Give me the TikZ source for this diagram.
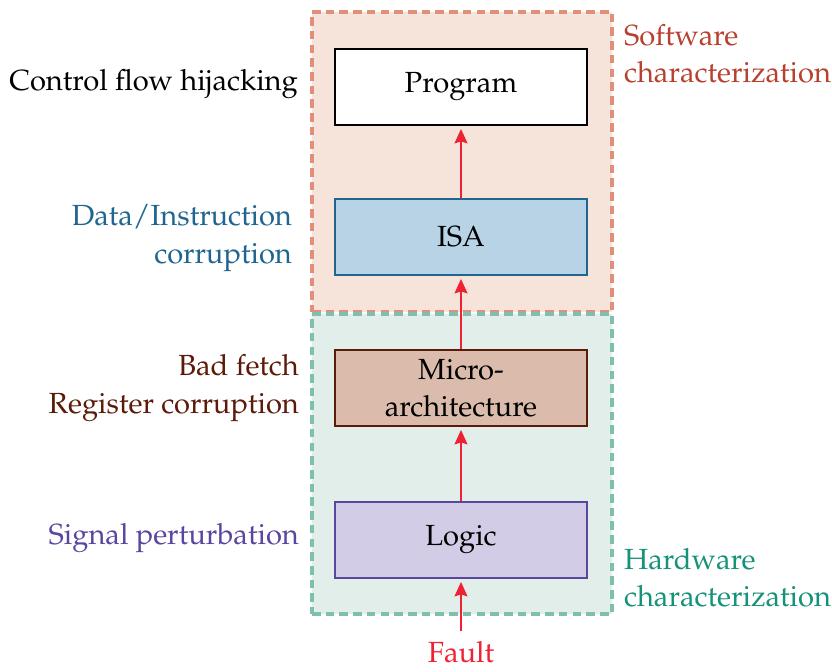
\documentclass[tikz,border=0pt]{standalone}
\usepackage[T1]{fontenc}
\usepackage{mathpazo}
\usepackage{tikz}
\usetikzlibrary{arrows.meta, positioning}

\definecolor{swfill}{HTML}{F6E3DA}
\definecolor{swline}{HTML}{E0907A}
\definecolor{swtext}{HTML}{B8402F}
\definecolor{hwfill}{HTML}{E2EEE9}
\definecolor{hwline}{HTML}{7FBFB0}
\definecolor{hwtext}{HTML}{16917A}
\definecolor{isafill}{HTML}{B8D3E6}
\definecolor{isaline}{HTML}{1F6590}
\definecolor{uarchfill}{HTML}{DBBCAC}
\definecolor{uarchline}{HTML}{5C1A08}
\definecolor{logicfill}{HTML}{D2CCE6}
\definecolor{logicline}{HTML}{5A45A0}
\definecolor{faultred}{HTML}{EE2233}

\begin{document}
\begin{tikzpicture}[
    x=0.35pt, y=-0.35pt,
    every node/.style={font=\fontsize{10.2}{13}\selectfont},
    layer/.style={draw, line width=0.8pt, minimum width=88pt, minimum height=26.5pt, inner sep=2pt, align=center},
    group/.style={dash pattern=on 3pt off 1.8pt, line width=1.2pt, minimum width=105pt, minimum height=105pt},
    arrow/.style={-{Stealth[length=5pt, width=4.4pt, inset=0.6pt]}, line width=1pt, faultred, shorten >=1pt},
    effect/.style={anchor=east, align=right},
    level/.style={anchor=west, align=left}
]
\useasboundingbox (0,0) rectangle (832,671);

% === CHARACTERIZATION GROUPS ===
\node [group, draw=swline, fill=swfill] (software) at (462,162) {};
\node [group, draw=hwline, fill=hwfill] (hardware) at (462,464) {};

% === LAYERS ===
\node [layer, fill=white] (program) at (461,87) {Program};
\node [layer, draw=isaline, fill=isafill] (isa) at (461,237) {ISA};
\node [layer, draw=uarchline, fill=uarchfill] (uarch) at (461,388) {Micro-\\architecture};
\node [layer, draw=logicline, fill=logicfill] (logic) at (461,540) {Logic};
\node [text=faultred] (fault) at (461,652) {Fault};

% === FAULT PROPAGATION ARROWS ===
\draw[arrow] (fault) -- (logic);
\draw[arrow] (logic) -- (uarch);
\draw[arrow] (uarch) -- (isa);
\draw[arrow] (isa) -- (program);

% === EFFECT LABELS ===
\node[effect] (hijack) at (308,84) {Control flow hijacking};
\node[effect, text=isaline] (corrupt) at (302,238) {Data/Instruction\\corruption};
\node[effect, text=uarchline] (fetch) at (309,388) {Bad fetch\\Register corruption};
\node[effect, text=logicline] (signal) at (309,538) {Signal perturbation};

% === GROUP LABELS ===
\node[level, text=swtext] (swlabel) at (614,54) {Software\\characterization};
\node[level, text=hwtext] (hwlabel) at (614,578) {Hardware\\characterization};

\end{tikzpicture}
\end{document}
